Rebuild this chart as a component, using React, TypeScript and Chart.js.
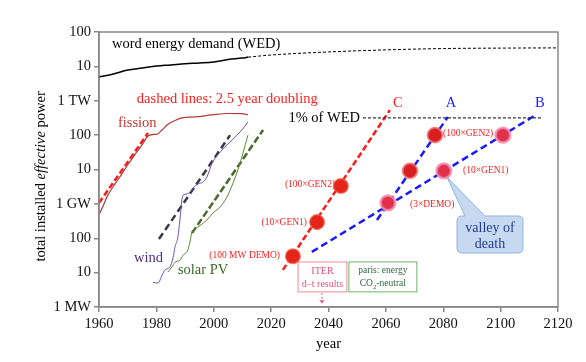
import React, { useEffect, useRef } from "react";
import { Chart, registerables } from "chart.js";

Chart.register(...registerables);

// ---- axes ----
const yearMin = 1960;
const yearMax = 2120;
const yearStep = 20;
const yTickValues = [1, 10, 100, 1e3, 1e4, 1e5, 1e6, 1e7, 1e8]; // MW
const yTickLabels = ["1 MW", "10", "100", "1 GW", "10", "100", "1 TW", "10", "100"];

// ---- data (power in MW) ----
const wedYears = [1960, 1965, 1970, 1975, 1980, 1985, 1990, 1995, 2000, 2005, 2010, 2012];
const wedPower = [4.9e6, 6.0e6, 7.8e6, 8.9e6, 1.02e7, 1.1e7, 1.2e7, 1.26e7, 1.35e7, 1.58e7, 1.74e7, 1.86e7];
const wedProjYears = [2012, 2020, 2040, 2060, 2080, 2100, 2120];
const wedProjPower = [1.86e7, 2.14e7, 2.63e7, 3.02e7, 3.3e7, 3.4e7, 3.45e7];
const wedPctYears = [2052, 2114.4];
const wedPctPower = [3.16e5, 3.16e5];

const fissionYears = [1960.3, 1961.5, 1963.1, 1965.6, 1968, 1970.1, 1972.5, 1975, 1977.1, 1978.8, 1980.2, 1982, 1983.7, 1985.4, 1988.9, 1993.5, 1999.4, 2005, 2009.8, 2011.9];
const fissionPower = [540, 900, 1800, 3800, 7500, 14000, 27000, 52000, 94000, 104000, 106000, 141000, 196000, 240000, 316000, 338000, 386000, 425000, 420000, 390000];
const fissionTrendYears = [1960, 1977.1];
const fissionTrend = [1070, 115000];

const windYears = [1978.8, 1980.6, 1982, 1983, 1984.7, 1985.8, 1986.5, 1987.5, 1988.2, 1988.9, 1989.3, 1990.7, 1991.7, 1992.8, 1994.5, 1996.2, 1997.6, 1999.4, 2002.9, 2006.4, 2009.8, 2011.9];
const windPower = [5.2, 5.0, 8.5, 12, 14.5, 27, 56, 109, 340, 1300, 1800, 1950, 2200, 2900, 3800, 4300, 6000, 15000, 37000, 72000, 141000, 240000];
const windTrendYears = [1980.9, 2005.7];
const windTrend = [95, 100000];

const solarYears = [1984, 1985.4, 1986.5, 1988.2, 1989.3, 1991, 1991.7, 1992.4, 1994.5, 1997.6, 1999.7, 2002.2, 2004.6, 2006.7, 2008.4, 2010.2, 2011.9];
const solarPower = [10.4, 14.5, 20, 23, 32, 46, 78, 152, 213, 340, 540, 810, 1580, 4000, 9700, 30000, 100000];
const solarTrendYears = [1992.4, 2017.2];
const solarTrend = [141, 141000];

const cYears = [2024.1, 2061.4];
const cPower = [12, 537000];
const aYears = [2056.9, 2081.6];
const aPower = [339, 339000];
const bYears = [2034.2, 2112.7];
const bPower = [40, 407000];

const cMilestoneYears = [2027.6, 2036.0, 2044.3];
const cMilestones = [30, 295, 3300];
const aMilestoneYears = [2068.4, 2077.1];
const aMilestones = [9100, 100000];
const bMilestoneYears = [2060.7, 2080.2, 2100.8];
const bMilestones = [1070, 9100, 100000];

// ---- text annotations (year, log10 MW) ----
const SERIF = '"Liberation Serif", "Times New Roman", Times, serif';
const RED = "#ff2020";
const BLUE = "#1a1aff";
const labels = [
  { t: "word energy demand (WED)", x: 1964.5, lg: 7.65, c: "#000", s: 14.5, a: "left" },
  { t: "dashed lines: 2.5 year doubling", x: 1973.2, lg: 6.05, c: RED, s: 14.5, a: "left" },
  { t: "fission", x: 1966.6, lg: 5.35, c: "#cc3333", s: 14.5, a: "left" },
  { t: "1% of WED", x: 2051, lg: 5.5, c: "#000", s: 14.5, a: "right" },
  { t: "C", x: 2064.2, lg: 5.93, c: RED, s: 14.5, a: "center" },
  { t: "A", x: 2082.7, lg: 5.93, c: BLUE, s: 14.5, a: "center" },
  { t: "B", x: 2113.7, lg: 5.93, c: BLUE, s: 14.5, a: "center" },
  { t: "(100 MW DEMO)", x: 2023.1, lg: 1.51, c: RED, s: 9.5, a: "right" },
  { t: "(10\u00d7GEN1)", x: 2032.5, lg: 2.47, c: RED, s: 9.5, a: "right" },
  { t: "(100\u00d7GEN2)", x: 2042.3, lg: 3.55, c: RED, s: 9.5, a: "right" },
  { t: "(3\u00d7DEMO)", x: 2068.4, lg: 2.97, c: RED, s: 9.5, a: "left" },
  { t: "(10\u00d7GEN1)", x: 2086.9, lg: 3.96, c: RED, s: 9.5, a: "left" },
  { t: "(100\u00d7GEN2)", x: 2079.9, lg: 5.06, c: RED, s: 9.5, a: "left" },
  { t: "wind", x: 1972.2, lg: 1.43, c: "#4d2d80", s: 14.5, a: "left" },
  { t: "solar PV", x: 1987.5, lg: 1.08, c: "#3a6a22", s: 14.5, a: "left" },
];

const pts = (xs: number[], ys: number[]) => xs.map((x, i) => ({ x, y: ys[i] }));

const line = (data: any, color: string, width: number, dash: number[] = [], extra: any = {}) => ({
  data,
  borderColor: color,
  backgroundColor: color,
  borderWidth: width,
  borderDash: dash,
  pointRadius: 0,
  showLine: true,
  fill: false,
  order: 5,
  ...extra,
});

const dots = (data: any, fill: string, ring: string, ringW: number) => ({
  data,
  showLine: false,
  pointRadius: 7.3,
  pointBackgroundColor: fill,
  pointBorderColor: ring,
  pointBorderWidth: ringW,
  order: 1,
});

const annotPlugin = {
  id: "annot",
  afterDatasetsDraw(chart: any) {
    const ctx = chart.ctx as CanvasRenderingContext2D;
    const xs = chart.scales.x;
    const ys = chart.scales.y;
    const X = (v: number) => xs.getPixelForValue(v);
    const Y = (lg: number) => ys.getPixelForValue(Math.pow(10, lg));
    const { left, top, right, bottom } = chart.chartArea;
    ctx.save();
    // frame
    ctx.strokeStyle = "#888";
    ctx.lineWidth = 1.5;
    ctx.strokeRect(left, top, right - left, bottom - top);

    ctx.textBaseline = "middle";
    for (const l of labels) {
      ctx.font = `${l.s}px ${SERIF}`;
      ctx.fillStyle = l.c;
      ctx.textAlign = l.a as CanvasTextAlign;
      ctx.fillText(l.t, X(l.x), Y(l.lg));
    }

    // ITER box
    const ix0 = X(2029.4), ix1 = X(2046.4), iy0 = Y(1.31), iy1 = Y(0.44);
    ctx.fillStyle = "#fff";
    ctx.fillRect(ix0, iy0, ix1 - ix0, iy1 - iy0);
    ctx.strokeStyle = "#f38a9a";
    ctx.lineWidth = 1;
    ctx.strokeRect(ix0, iy0, ix1 - ix0, iy1 - iy0);
    ctx.fillStyle = "#f0507a";
    ctx.textAlign = "center";
    ctx.font = `10px ${SERIF}`;
    const icx = (ix0 + ix1) / 2;
    ctx.fillText("ITER", icx, iy0 + 9);
    ctx.fillText("d\u2013t results", icx, iy0 + 22);
    // little arrow
    const ax = X(2037.7);
    ctx.strokeStyle = "#f0507a";
    ctx.setLineDash([2, 2]);
    ctx.beginPath();
    ctx.moveTo(ax, iy1 + 1);
    ctx.lineTo(ax, Y(0.18));
    ctx.stroke();
    ctx.setLineDash([]);
    ctx.beginPath();
    ctx.moveTo(ax - 2.5, Y(0.2));
    ctx.lineTo(ax + 2.5, Y(0.2));
    ctx.lineTo(ax, Y(0.1));
    ctx.closePath();
    ctx.fillStyle = "#f0507a";
    ctx.fill();

    // Paris box
    const px0 = X(2047.1), px1 = X(2070.8);
    ctx.fillStyle = "#fff";
    ctx.fillRect(px0, iy0, px1 - px0, iy1 - iy0);
    ctx.strokeStyle = "#6ab46a";
    ctx.strokeRect(px0, iy0, px1 - px0, iy1 - iy0);
    ctx.fillStyle = "#2f6a3c";
    ctx.font = `9.5px ${SERIF}`;
    const pcx = (px0 + px1) / 2;
    ctx.textAlign = "center";
    ctx.fillText("paris: energy", pcx, iy0 + 9);
    // CO2-neutral with subscript
    const p1 = "CO", p2 = "2", p3 = "-neutral";
    ctx.font = `9.5px ${SERIF}`;
    const w1 = ctx.measureText(p1).width;
    const w3 = ctx.measureText(p3).width;
    ctx.font = `7px ${SERIF}`;
    const w2 = ctx.measureText(p2).width;
    let sx = pcx - (w1 + w2 + w3) / 2;
    const sy = iy0 + 22;
    ctx.textAlign = "left";
    ctx.font = `9.5px ${SERIF}`;
    ctx.fillText(p1, sx, sy);
    sx += w1;
    ctx.font = `7px ${SERIF}`;
    ctx.fillText(p2, sx, sy + 3);
    sx += w2;
    ctx.font = `9.5px ${SERIF}`;
    ctx.fillText(p3, sx, sy);

    // valley of death callout
    const vx0 = X(2084.8), vx1 = X(2107.8), vy0 = Y(2.647), vy1 = Y(1.571);
    const r = 5;
    const bx0 = X(2087.6), bx1 = X(2094.5);
    const tx = X(2081.3), ty = Y(3.78);
    ctx.beginPath();
    ctx.moveTo(vx0 + r, vy0);
    ctx.lineTo(bx0, vy0);
    ctx.lineTo(tx, ty);
    ctx.lineTo(bx1, vy0);
    ctx.lineTo(vx1 - r, vy0);
    ctx.quadraticCurveTo(vx1, vy0, vx1, vy0 + r);
    ctx.lineTo(vx1, vy1 - r);
    ctx.quadraticCurveTo(vx1, vy1, vx1 - r, vy1);
    ctx.lineTo(vx0 + r, vy1);
    ctx.quadraticCurveTo(vx0, vy1, vx0, vy1 - r);
    ctx.lineTo(vx0, vy0 + r);
    ctx.quadraticCurveTo(vx0, vy0, vx0 + r, vy0);
    ctx.closePath();
    ctx.fillStyle = "#c6d9f1";
    ctx.fill();
    ctx.strokeStyle = "#8fb3e0";
    ctx.lineWidth = 1;
    ctx.stroke();
    ctx.fillStyle = "#1f3d8f";
    ctx.font = `14px ${SERIF}`;
    ctx.textAlign = "center";
    const vcx = (vx0 + vx1) / 2;
    ctx.fillText("valley of", vcx, vy0 + 12);
    ctx.fillText("death", vcx, vy0 + 28);

    // axis titles
    ctx.fillStyle = "#000";
    ctx.font = `14.5px ${SERIF}`;
    ctx.textAlign = "center";
    ctx.fillText("year", X(2040), bottom + 37);

    ctx.translate(41, Y(3.8));
    ctx.rotate(-Math.PI / 2);
    const parts = [
      { t: "total installed ", it: false },
      { t: "effective", it: true },
      { t: " power", it: false },
    ];
    let total = 0;
    for (const p of parts) {
      ctx.font = `${p.it ? "italic " : ""}14.5px ${SERIF}`;
      total += ctx.measureText(p.t).width;
    }
    let cx = -total / 2;
    ctx.textAlign = "left";
    for (const p of parts) {
      ctx.font = `${p.it ? "italic " : ""}14.5px ${SERIF}`;
      ctx.fillText(p.t, cx, 0);
      cx += ctx.measureText(p.t).width;
    }
    ctx.restore();
  },
};

export default function App() {
  const ref = useRef<HTMLCanvasElement>(null);
  useEffect(() => {
    document.body.style.margin = "0";
    const canvas = ref.current!;
    const chart = new Chart(canvas, {
      type: "line",
      data: {
        datasets: [
          dots(pts(cMilestoneYears, cMilestones), "#e4261a", "rgba(240,90,70,0.75)", 1.5),
          dots(pts(aMilestoneYears, aMilestones), "#d81e1e", "rgba(240,110,110,0.8)", 2),
          dots(pts(bMilestoneYears, bMilestones), "#e0304c", "rgba(245,140,175,0.85)", 2.5),
          line(pts(wedYears, wedPower), "#000", 1.5, [], { cubicInterpolationMode: "monotone" }),
          line(pts(wedProjYears, wedProjPower), "#000", 1, [3, 2], { cubicInterpolationMode: "monotone" }),
          line(pts(wedPctYears, wedPctPower), "#333", 1.3, [3, 2]),
          line(pts(fissionYears, fissionPower), "#b03a3a", 1.2, [], { cubicInterpolationMode: "monotone" }),
          line(pts(fissionTrendYears, fissionTrend), "#ff1a1a", 2.5, [6, 3]),
          line(pts(windYears, windPower), "#7050b0", 1, [], { cubicInterpolationMode: "monotone" }),
          line(pts(windTrendYears, windTrend), "#3a3a4c", 2.5, [7, 4]),
          line(pts(solarYears, solarPower), "#5a8a30", 1, [], { cubicInterpolationMode: "monotone" }),
          line(pts(solarTrendYears, solarTrend), "#4a6a2a", 2.5, [7, 3]),
          line(pts(cYears, cPower), "#ff1a1a", 2.5, [6, 3]),
          line(pts(aYears, aPower), BLUE, 2.5, [7, 4]),
          line(pts(bYears, bPower), BLUE, 2.5, [7, 4]),
        ],
      },
      options: {
        responsive: false,
        animation: false,
        devicePixelRatio: 1,
        layout: { padding: { left: 0, right: 28, top: 32, bottom: 0 } },
        plugins: { legend: { display: false }, tooltip: { enabled: false } },
        scales: {
          x: {
            type: "linear",
            min: yearMin,
            max: yearMax,
            ticks: {
              stepSize: yearStep,
              color: "#111",
              font: { family: SERIF, size: 14.5 },
              padding: 3,
              maxRotation: 0,
              callback: (v: any) => String(v),
            },
            grid: { drawOnChartArea: false, drawTicks: true, tickLength: 5, color: "#888", lineWidth: 1.5 },
            border: { display: true, color: "#888", width: 1.5 },
            afterFit: (s: any) => {
              s.height = 55;
            },
          },
          y: {
            type: "logarithmic",
            min: 1,
            max: 1e8,
            afterBuildTicks: (s: any) => {
              s.ticks = yTickValues.map((v) => ({ value: v }));
            },
            ticks: {
              autoSkip: false,
              color: "#111",
              font: { family: SERIF, size: 14.5 },
              padding: 3,
              callback: (_v: any, i: number) => yTickLabels[i],
            },
            grid: { drawOnChartArea: false, drawTicks: true, tickLength: 5, color: "#888", lineWidth: 1.5 },
            border: { display: true, color: "#888", width: 1.5 },
            afterFit: (s: any) => {
              s.width = 99;
            },
          },
        },
      },
      plugins: [annotPlugin],
    } as any);
    return () => chart.destroy();
  }, []);
  return (
    <div style={{ position: "absolute", left: 0, top: 0, width: 586, height: 362, background: "#fff" }}>
      <canvas ref={ref} width={586} height={362} />
    </div>
  );
}
